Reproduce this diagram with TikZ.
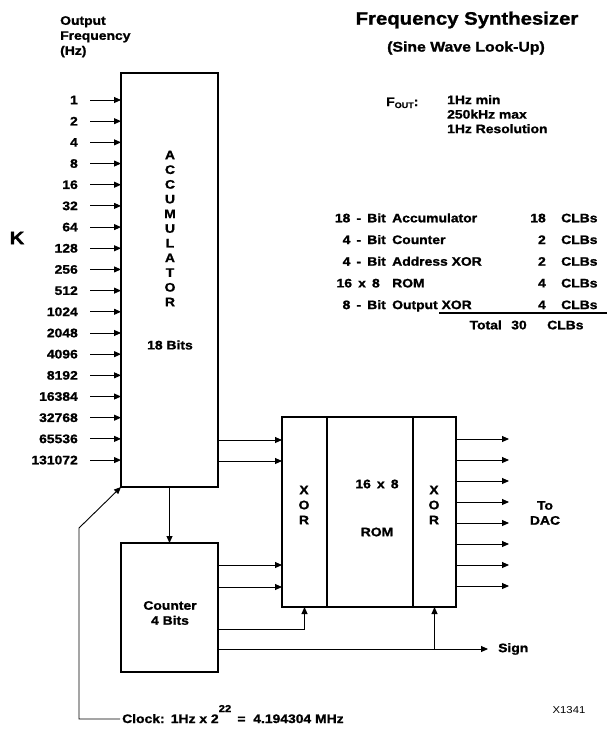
\documentclass[tikz,border=0pt]{standalone}
\usepackage{fontspec}
\setmainfont{Liberation Sans}[FakeStretch=1.13, BoldFeatures={FakeBold=1.3}]
\usetikzlibrary{arrows.meta, positioning, calc}

\begin{document}
\begin{tikzpicture}[x=1pt, y=-1pt,
  block/.style={rectangle, draw, line width=1.6pt, inner sep=0pt, outer sep=0pt},
  txt/.style={inner sep=0pt, align=center, font=\fontsize{12.3}{15}\selectfont\bfseries},
  wire/.style={line width=0.9pt, -{Triangle[length=7pt, width=6pt]}}
]
  \useasboundingbox (0,0) rectangle (607,729);

  \node[txt, font=\fontsize{18}{22}\selectfont\bfseries] (title) at (467,20) {Frequency Synthesizer};
  \node[txt, font=\fontsize{14}{17}\selectfont\bfseries] (subtitle) at (466,48) {(Sine Wave Look-Up)};
  \node[txt, anchor=base west] (fout) at (386,106) {F\raisebox{-2pt}{\fontsize{8}{8}\selectfont OUT}:};
  \node[txt, anchor=north west, align=left, font=\fontsize{12.3}{14.5}\selectfont\bfseries] (spec) at (447,95) {1Hz min\\250kHz max\\1Hz Resolution};

  \node[txt, anchor=north west, align=left] (outfreq) at (60,16) {Output\\Frequency\\(Hz)};
  \node[txt, font=\fontsize{18}{22}\selectfont\bfseries] (kval) at (17,238) {K};

  % accumulator
  \node[block, minimum width=97pt, minimum height=414pt] (acc) at (169.5,280) {};
  \node[txt, font=\fontsize{12.3}{14.7}\selectfont\bfseries] (accname) at (170,228.5) {A\\C\\C\\U\\M\\U\\L\\A\\T\\O\\R};
  \node[txt] (accbits) at (170,345) {18 Bits};

  \foreach \f [count=\i from 0] in {1,2,4,8,16,32,64,128,256,512,1024,2048,4096,8192,16384,32768,65536,131072}
  {
    \node[txt, anchor=east] (f\i) at (78,100+21.18*\i) {\f};
    \draw[wire] ([xshift=12pt]f\i.east) -- (f\i.east -| acc.west);
  }

  % counter
  \node[block, minimum width=97pt, minimum height=129pt] (cnt) at (169.5,607.5) {};
  \node[txt] (cntname) at (170,613) {Counter\\4 Bits};
  \draw[wire] (acc.south) -- (cnt.north);

  % xor / rom / xor
  \node[block, minimum width=45pt, minimum height=190pt] (xorin) at (304.5,512) {};
  \node[block, minimum width=86pt, minimum height=190pt, right=0pt of xorin] (rom) {};
  \node[block, minimum width=43pt, minimum height=190pt, right=0pt of rom] (xorout) {};
  \node[txt] (xorintxt) at (304,505) {X\\O\\R};
  \node[txt] (romsize) at (377,484) {16\enspace x\enspace 8};
  \node[txt] (romname) at (377,532) {ROM};
  \node[txt] (xorouttxt) at (434,505) {X\\O\\R};

  \foreach \y in {440,461}
    \draw[wire] (acc.east |- 0,\y) -- (xorin.west |- 0,\y);
  \foreach \y in {565,587}
    \draw[wire] (cnt.east |- 0,\y) -- (xorin.west |- 0,\y);
  \draw[wire] (cnt.east |- 0,629) -| (xorin.south);

  \node[txt, anchor=west] (sign) at (498,649) {Sign};
  \draw[wire, shorten >=10pt] (cnt.east |- sign.west) -- (sign.west);
  \draw[wire] (xorout.south |- sign.west) -- (xorout.south);

  % outputs
  \coordinate (dac) at (509,0);
  \foreach \y in {439,460,...,586}
    \draw[wire] (xorout.east |- 0,\y) -- (dac |- 0,\y);
  \node[txt] (todac) at (545,513) {To\\DAC};

  % clock
  \node[txt, anchor=base west] (clock) at (122,723) {Clock:\enspace 1Hz x 2\raisebox{11pt}{\fontsize{10}{10}\selectfont 22}\enspace= \ 4.194304 MHz};
  \coordinate (clkbend) at (79,528);
  \draw[wire] ([xshift=-2pt, yshift=4pt]clock.base west) -| (clkbend) -- (acc.south west);

  % table
  \foreach \a/\b/\n/\r [count=\i from 0] in {18\enspace-\enspace Bit/Accumulator/18/386, 4\enspace-\enspace Bit/Counter/2/386, 4\enspace-\enspace Bit/Address XOR/2/386, 16\enspace x\enspace 8/ROM/4/380, 8\enspace-\enspace Bit/Output XOR/4/386}
  {
    \node[txt, anchor=base east] (ta\i) at (\r,222.3+21.7*\i) {\a};
    \node[txt, anchor=base west] (tb\i) at (392,222.3+21.7*\i) {\b};
    \node[txt, anchor=base east] (tn\i) at (546,222.3+21.7*\i) {\n};
    \node[txt, anchor=base west] (tc\i) at (561,222.3+21.7*\i) {CLBs};
  }
  \draw[line width=1.2pt] (439,313) -- (607,313);
  \node[txt, anchor=base east] (total) at (502,329.3) {Total};
  \node[txt, anchor=base] (totaln) at (519,329.3) {30};
  \node[txt, anchor=base west] (totalc) at (547,329.3) {CLBs};

  \node[inner sep=0pt, font=\fontsize{10}{12}\selectfont] (fig) at (569,710) {X1341};
\end{tikzpicture}
\end{document}
